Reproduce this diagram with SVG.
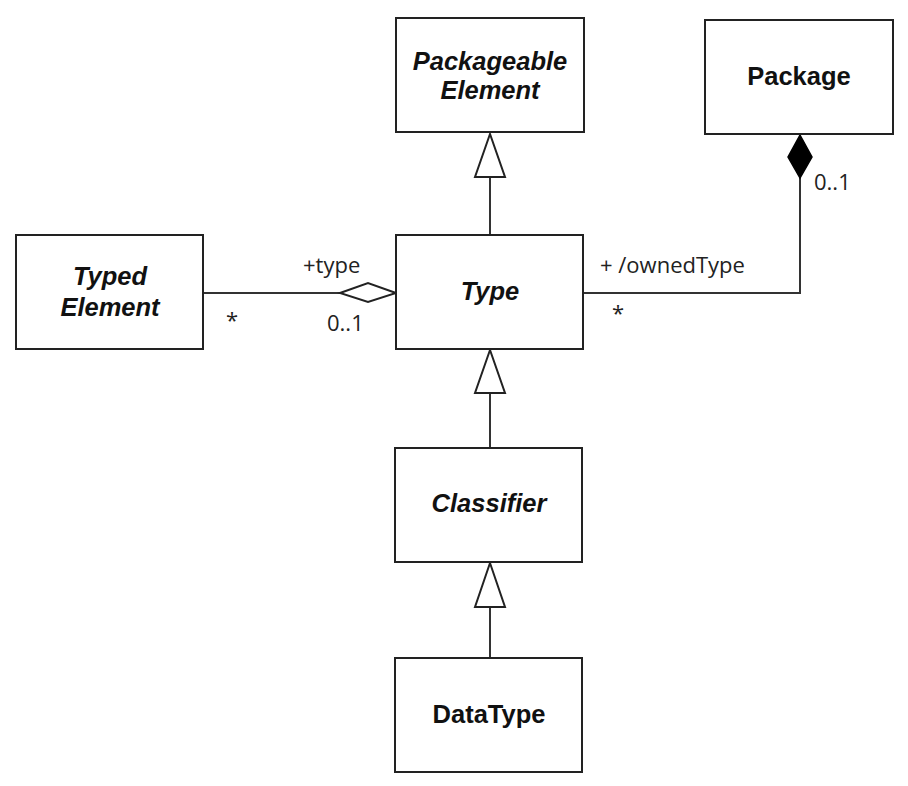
<svg xmlns="http://www.w3.org/2000/svg" width="908" height="786" viewBox="0 0 908 786">
<style>
.box{fill:#fff;stroke:#222;stroke-width:2}
.name{font-family:"Liberation Sans",Arial,sans-serif;font-weight:bold;font-size:25.5px;fill:#111;text-anchor:middle}
.abs{font-style:italic}
.lbl{font-family:"Open Sans","Liberation Sans",sans-serif;font-size:22px;fill:#222}
.ln{fill:none;stroke:#333;stroke-width:2}
.gen{fill:#fff;stroke:#222;stroke-width:2;stroke-linejoin:miter}
</style>
<rect width="908" height="786" fill="#fff"/>
<g id="connectors">
  <line class="ln" x1="490" y1="235" x2="490" y2="177"/>
  <polygon class="gen" points="490,134 475,177 505,177"/>
  <line class="ln" x1="490" y1="448" x2="490" y2="393"/>
  <polygon class="gen" points="490,350 475,393 505,393"/>
  <line class="ln" x1="490" y1="657" x2="490" y2="607"/>
  <polygon class="gen" points="490,563 475,607 505,607"/>
  <line class="ln" x1="203" y1="293" x2="340" y2="293"/>
  <polygon class="gen" points="340,293 368,283 396,293 368,302"/>
  <polyline class="ln" points="583,293 800,293 800,178"/>
  <polygon fill="#000" stroke="#000" stroke-width="1.5" points="800,135 812,157 800,178 788,157"/>
  <text class="lbl" x="303" y="273">+type</text>
  <text class="lbl" x="327" y="331">0..1</text>
  <text class="lbl" x="226" y="328">*</text>
  <text class="lbl" x="600" y="273">+ /ownedType</text>
  <text class="lbl" x="612" y="321">*</text>
  <text class="lbl" x="814" y="190">0..1</text>
</g>
<g id="packageable-element">
  <rect class="box" x="396" y="18" width="188" height="114"/>
  <text class="name abs" x="490" y="70">Packageable</text>
  <text class="name abs" x="490" y="99">Element</text>
</g>
<g id="package">
  <rect class="box" x="705" y="20" width="188" height="114"/>
  <text class="name" x="799" y="85">Package</text>
</g>
<g id="typed-element">
  <rect class="box" x="16" y="235" width="187" height="114"/>
  <text class="name abs" x="110" y="285">Typed</text>
  <text class="name abs" x="110" y="316">Element</text>
</g>
<g id="type">
  <rect class="box" x="396" y="235" width="187" height="114"/>
  <text class="name abs" x="490" y="300">Type</text>
</g>
<g id="classifier">
  <rect class="box" x="395" y="448" width="187" height="114"/>
  <text class="name abs" x="489" y="512">Classifier</text>
</g>
<g id="datatype">
  <rect class="box" x="395" y="658" width="187" height="114"/>
  <text class="name" x="489" y="723">DataType</text>
</g>
</svg>
